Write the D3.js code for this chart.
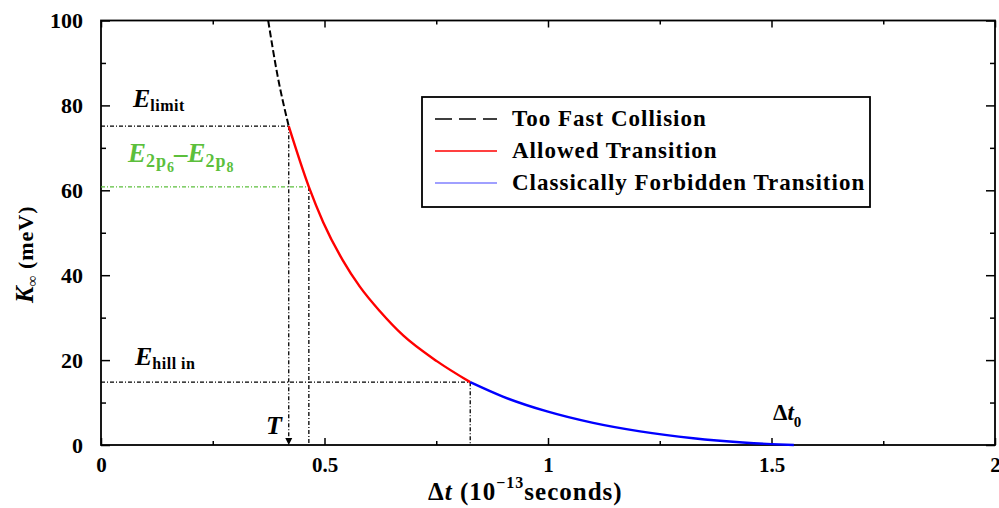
<!DOCTYPE html>
<html>
<head>
<meta charset="utf-8">
<script src="https://cdn.jsdelivr.net/npm/d3@7"></script>
<style>
  body { margin: 0; background: #fff; }
  svg text { font-family: "Liberation Serif", "Times New Roman", "DejaVu Serif", serif; }
</style>
</head>
<body>
<svg id="chart" width="999" height="508"></svg>
<script>
// curve pieces (dt in 1e-13 s, K in meV)
var dtFast = [0.374, 0.395, 0.420];
var kFast = [100, 87, 75.1];
var dtAllowed = [0.420, 0.465, 0.497, 0.541, 0.579, 0.624, 0.676, 0.752, 0.826];
var kAllowed = [75.1, 60.8, 52.5, 43.5, 37.3, 31.5, 25.8, 19.7, 14.8];
var dtForbidden = [0.826, 0.899, 0.998, 1.101, 1.206, 1.325, 1.436, 1.50, 1.55];
var kForbidden = [14.8, 11.4, 7.9, 5.2, 3.2, 1.6, 0.6, 0.2, 0];

// marker levels
var eLimit = 75.1, dtLimit = 0.420;
var eTrans = 60.8, dtTrans = 0.465;
var eHill = 14.8, dtHill = 0.826;

var xTicks = [0, 0.5, 1, 1.5, 2];
var xMinor = [0.25, 0.75, 1.25, 1.75];
var yTicks = [0, 20, 40, 60, 80, 100];
var yMinor = [10, 30, 50, 70, 90];

var legendNames = ['Too Fast Collision', 'Allowed Transition', 'Classically Forbidden Transition'];
var legendColors = ['#000000', '#ff0000', '#8080ff'];

var green = '#5cbf3c';
var dashDot = '4,2,1,2';

var svg = d3.select('#chart');
var pLeft = 101, pRight = 995, pTop = 20.5, pBottom = 445;

var x = d3.scaleLinear().domain([0, 2]).range([pLeft, pRight]);
var y = d3.scaleLinear().domain([0, 100]).range([pBottom, pTop]);

// ticks (inward), major + minor on all four sides
function tickAxis(axisFn, scale, vals, size, pos, isX) {
  var g = svg.append('g')
    .attr('transform', isX ? 'translate(0,' + pos + ')' : 'translate(' + pos + ',0)')
    .call(axisFn(scale).tickValues(vals).tickSize(size).tickFormat(''));
  g.select('.domain').remove();
  g.selectAll('line').attr('stroke', '#000').attr('stroke-width', 1.5);
}
tickAxis(d3.axisBottom, x, xTicks, -7, pBottom, true);
tickAxis(d3.axisBottom, x, xMinor, -4, pBottom, true);
tickAxis(d3.axisTop, x, xTicks, -7, pTop, true);
tickAxis(d3.axisTop, x, xMinor, -4, pTop, true);
tickAxis(d3.axisLeft, y, yTicks, -9, pLeft, false);
tickAxis(d3.axisLeft, y, yMinor, -5, pLeft, false);
tickAxis(d3.axisRight, y, yTicks, -9, pRight, false);
tickAxis(d3.axisRight, y, yMinor, -5, pRight, false);

// tick labels
var xLab = svg.append('g').attr('transform', 'translate(0,' + pBottom + ')')
  .call(d3.axisBottom(x).tickValues(xTicks).tickSize(0).tickPadding(12).tickFormat(d3.format('')));
xLab.select('.domain').remove();
xLab.attr('font-family', null);
xLab.selectAll('text').attr('font-size', 21).attr('font-weight', 'bold').attr('fill', '#000');

var yLab = svg.append('g').attr('transform', 'translate(' + pLeft + ',0)')
  .call(d3.axisLeft(y).tickValues(yTicks).tickSize(0).tickPadding(18));
yLab.select('.domain').remove();
yLab.attr('font-family', null);
yLab.selectAll('text').attr('font-size', 22).attr('font-weight', 'bold').attr('fill', '#000');

// frame
svg.append('rect')
  .attr('x', pLeft).attr('y', pTop)
  .attr('width', pRight - pLeft).attr('height', pBottom - pTop)
  .attr('fill', 'none').attr('stroke', '#000').attr('stroke-width', 1.8);

// reference lines
function refLine(x1, y1, x2, y2, color) {
  return svg.append('line')
    .attr('x1', x(x1)).attr('y1', y(y1))
    .attr('x2', x(x2)).attr('y2', y(y2))
    .attr('stroke', color).attr('stroke-width', 1.3)
    .attr('stroke-dasharray', dashDot);
}
refLine(0, eLimit, dtLimit, eLimit, '#000');
refLine(0, eTrans, dtTrans, eTrans, green);
refLine(0, eHill, dtHill, eHill, '#000');
refLine(dtLimit, eLimit, dtLimit, 1.5, '#000');
refLine(dtTrans, eTrans, dtTrans, 0, '#000');
refLine(dtHill, eHill, dtHill, 0, '#000');

// arrow head for T
var ax = x(dtLimit), ay = y(0);
svg.append('path')
  .attr('d', 'M' + (ax - 3.5) + ',' + (ay - 7) + 'L' + (ax + 3.5) + ',' + (ay - 7) + 'L' + ax + ',' + ay + 'Z')
  .attr('fill', '#000');

// curve
var line = d3.line().x(function(d) { return x(d[0]); }).y(function(d) { return y(d[1]); })
  .curve(d3.curveMonotoneX);
function pairs(a, b) { return a.map(function(v, i) { return [v, b[i]]; }); }

svg.append('path').datum(pairs(dtFast, kFast)).attr('d', line)
  .attr('fill', 'none').attr('stroke', '#000').attr('stroke-width', 2).attr('stroke-dasharray', '7,3');
svg.append('path').datum(pairs(dtAllowed, kAllowed)).attr('d', line)
  .attr('fill', 'none').attr('stroke', '#ff0000').attr('stroke-width', 2.4);
svg.append('path').datum(pairs(dtForbidden, kForbidden)).attr('d', line)
  .attr('fill', 'none').attr('stroke', '#0000ff').attr('stroke-width', 2.4);

// legend
var legend = svg.append('g');
legend.append('rect')
  .attr('x', 422).attr('y', 97).attr('width', 448).attr('height', 110)
  .attr('fill', '#fff').attr('stroke', '#000').attr('stroke-width', 1.8);
legendNames.forEach(function(name, i) {
  var ly = 119 + i * 32;
  legend.append('line')
    .attr('x1', 435).attr('x2', 497).attr('y1', ly).attr('y2', ly)
    .attr('stroke', legendColors[i]).attr('stroke-width', 1.6)
    .attr('stroke-dasharray', i === 0 ? '17,7' : null);
  legend.append('text')
    .attr('x', 512).attr('y', ly + 7)
    .attr('font-size', 23).attr('font-weight', 'bold')
    .attr('letter-spacing', 1)
    .text(name);
});

// annotations
function eLabel(xp, yp, sub, color) {
  var t = svg.append('text').attr('x', xp).attr('y', yp)
    .attr('fill', color).attr('font-weight', 'bold');
  t.append('tspan').attr('font-size', 26).attr('font-style', 'italic').text('E');
  t.append('tspan').attr('font-size', 16).attr('dy', 4).attr('letter-spacing', 0.5).text(sub);
  return t;
}
eLabel(133, 107, 'limit', '#000');
eLabel(135, 365, 'hill in', '#000');

var g2 = svg.append('text').attr('x', 128).attr('y', 162)
  .attr('fill', green).attr('font-weight', 'bold');
g2.append('tspan').attr('font-size', 27).attr('font-style', 'italic').text('E');
g2.append('tspan').attr('font-size', 18).attr('dy', 5).attr('letter-spacing', 1).text('2p');
g2.append('tspan').attr('font-size', 14).attr('dy', 5).text('6');
g2.append('tspan').attr('font-size', 27).attr('dy', -10).text('\u2013');
g2.append('tspan').attr('font-size', 27).attr('font-style', 'italic').text('E');
g2.append('tspan').attr('font-size', 18).attr('dy', 5).attr('letter-spacing', 1).text('2p');
g2.append('tspan').attr('font-size', 14).attr('dy', 5).text('8');

svg.append('text').attr('x', 266).attr('y', 434)
  .attr('font-size', 26).attr('font-weight', 'bold').attr('font-style', 'italic').text('T');

var d0 = svg.append('text').attr('x', 773).attr('y', 420).attr('font-weight', 'bold');
d0.append('tspan').attr('font-size', 23).text('\u0394');
d0.append('tspan').attr('font-size', 23).attr('font-style', 'italic').text('t');
d0.append('tspan').attr('font-size', 15).attr('dy', 7).text('0');

// axis titles
var xt = svg.append('text').attr('x', 428).attr('y', 500).attr('font-weight', 'bold')
  .attr('letter-spacing', 1);
xt.append('tspan').attr('font-size', 25).text('\u0394');
xt.append('tspan').attr('font-size', 25).attr('font-style', 'italic').text('t');
xt.append('tspan').attr('font-size', 25).text(' (10');
xt.append('tspan').attr('font-size', 16).attr('dy', -12).text('\u221213');
xt.append('tspan').attr('font-size', 25).attr('dy', 12).text('seconds)');

var yt = svg.append('text')
  .attr('transform', 'translate(33,303) rotate(-90)')
  .attr('font-weight', 'bold');
yt.append('tspan').attr('font-size', 25).attr('font-style', 'italic').text('K');
yt.append('tspan').attr('font-size', 15).attr('dy', 4).text('\u221e');
yt.append('tspan').attr('font-size', 22).attr('dy', -4).attr('letter-spacing', 1).text(' (meV)');
</script>
</body>
</html>
